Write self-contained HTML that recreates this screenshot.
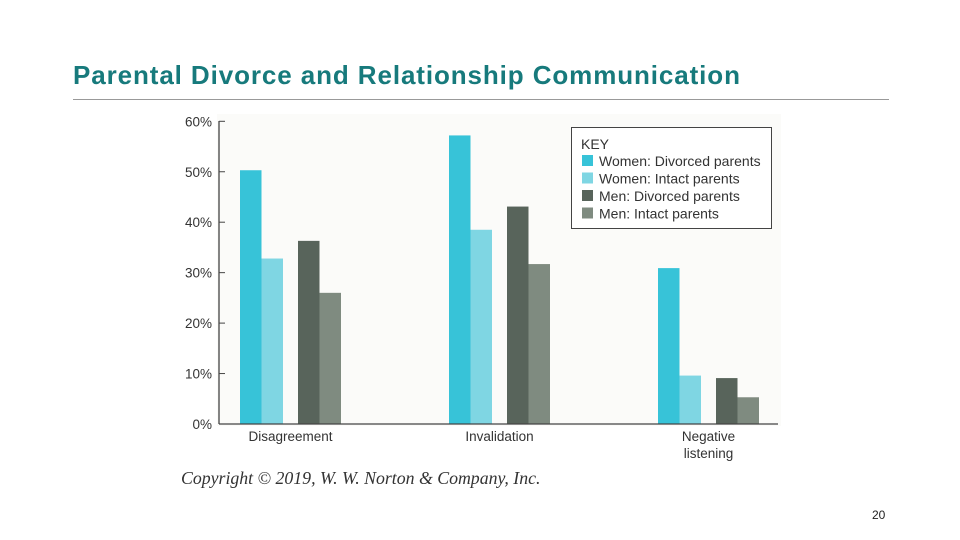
<!DOCTYPE html>
<html><head><meta charset="utf-8"><style>
body{margin:0;width:960px;height:540px;background:#fff;position:relative;overflow:hidden;font-family:"Liberation Sans",sans-serif}
#title{position:absolute;left:73px;top:60px;font-size:26px;font-weight:bold;color:#177a7c;white-space:nowrap;letter-spacing:0.9px}
#rule{position:absolute;left:73px;top:99px;width:816px;height:1px;background:#999}
#copy{position:absolute;left:181px;top:468px;font-family:"Liberation Serif",serif;font-style:italic;font-size:17.8px;color:#333}
#pg{position:absolute;left:872px;top:508px;font-size:12px;color:#222}
svg{position:absolute;left:0;top:0}
</style></head><body>
<div id="title">Parental Divorce and Relationship Communication</div>
<div id="rule"></div>
<svg id="chart" width="960" height="540"></svg>
<div id="copy">Copyright © 2019, W. W. Norton &amp; Company, Inc.</div>
<div id="pg">20</div>
<script>
const categories=[["Disagreement"],["Invalidation"],["Negative","listening"]];
const seriesNames=["Women: Divorced parents","Women: Intact parents","Men: Divorced parents","Men: Intact parents"];
const womenDivorced=[50.3,57.2,30.9];
const womenIntact=[32.8,38.5,9.6];
const menDivorced=[36.3,43.1,9.1];
const menIntact=[26.0,31.7,5.3];
const yTicks=[0,10,20,30,40,50,60];
const colors=["#37c3d8","#7fd6e3","#58645b","#7f8b80"];
const series=[womenDivorced,womenIntact,menDivorced,menIntact];
const NS="http://www.w3.org/2000/svg";
const svg=document.getElementById('chart');
const y0=424,yTop=121.3,x0=219;
const y=v=>y0-(v/60)*(y0-yTop);
const groupX=i=>240+i*209;
const barOff=[0,21.5,58,79.5];
const bw=21.5;
function mk(t,a){const e=document.createElementNS(NS,t);for(const k in a)e.setAttribute(k,a[k]);svg.appendChild(e);return e;}
const bg=mk('rect',{x:217,y:114,width:564,height:312,fill:'#fbfbf9'});


yTicks.forEach(t=>{
  const l=mk('line',{x1:x0,x2:x0+6,y1:y(t),y2:y(t),stroke:'#444','stroke-width':1});
  
  
  const tx=mk('text',{x:212,y:y(t)+5,'text-anchor':'end','font-size':13.5,fill:'#333'});
  tx.textContent=t+'%';
  
  
});
series.forEach((s,si)=>{
  s.forEach((v,ci)=>{
    const r=mk('rect',{x:groupX(ci)+barOff[si],y:y(v),width:bw,height:y0-y(v),fill:colors[si]});
    
    
  });
});
const ax=mk('line',{x1:x0,x2:x0,y1:121,y2:y0,stroke:'#444','stroke-width':1.3});


const bx=mk('line',{x1:x0,x2:778,y1:y0,y2:y0,stroke:'#444','stroke-width':1.3});


categories.forEach((c,ci)=>{
  c.forEach((ln,li)=>{
    const tx=mk('text',{x:groupX(ci)+50.5,y:441+li*17,'text-anchor':'middle','font-size':13.5,fill:'#333'});
    tx.textContent=ln;
    
    
  });
});
const lb=mk('rect',{x:571.5,y:127.5,width:200,height:101,fill:'#fff',stroke:'#444','stroke-width':1});


const kt=mk('text',{x:581,y:149,'font-size':14,fill:'#333'});
kt.textContent='KEY';


seriesNames.forEach((n,i)=>{
  const sw=mk('rect',{x:582,y:155+i*17.5,width:11,height:11,fill:colors[i]});
  
  
  const tx=mk('text',{x:599,y:166+i*17.5,'font-size':14,fill:'#333'});
  tx.textContent=n;
  
  
});
</script>
</body></html>
